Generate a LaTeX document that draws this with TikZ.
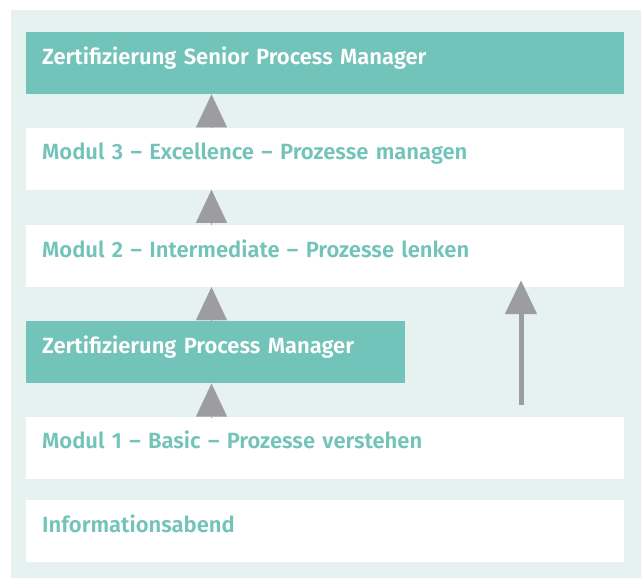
\documentclass[tikz,border=0pt]{standalone}
\usepackage{fontspec}
\setmainfont{Fira Sans}[BoldFont={Fira Sans SemiBold}]
\usepackage{tikz}
\usetikzlibrary{arrows.meta, positioning}

\definecolor{zteal}{HTML}{72C3B9}
\definecolor{zmint}{HTML}{E6F2F0}
\definecolor{zgray}{HTML}{9D9D9F}

\begin{document}
\begin{tikzpicture}[
    stage/.style={fill=#1, anchor=north west, minimum width=598pt, text width=566pt,
        inner xsep=16pt, inner ysep=0pt, text height=32pt, text depth=30pt, align=left,
        font=\bfseries\fontsize{22}{26}\selectfont, text=zteal},
    stage/.default=white,
    cert/.style={stage=zteal, text=white},
    step up/.style={zgray, line width=0.1pt, -{Triangle[width=31pt, length=33pt]}},
    long up/.style={zgray, line width=5pt, -{Triangle[width=31pt, length=34pt]}}
]
    % background panel and page
    \useasboundingbox (0,0) rectangle (641pt,-579pt);
    \fill[zmint] (11pt,-10pt) rectangle (641pt,-578pt);

    % stages, top to bottom
    \node[cert] (senior) at (26pt,-32pt) {Zertifizierung Senior Process Manager};
    \node[stage, below=33pt of senior.south west, anchor=north west] (mod3) {Modul 3 -- Excellence -- Prozesse managen};
    \node[stage, below=35pt of mod3.south west, anchor=north west] (mod2) {Modul 2 -- Intermediate -- Prozesse lenken};
    \node[cert, minimum width=379pt, text width=347pt, below=34pt of mod2.south west, anchor=north west] (pm) {Zertifizierung Process Manager};
    \node[stage, below=33pt of pm.south west, anchor=north west] (mod1) {Modul 1 -- Basic -- Prozesse verstehen};
    \node[stage, below=21pt of mod1.south west, anchor=north west] (info) {Informationsabend};

    % step arrows
    \draw[step up] (mod1.north west) ++(185.5pt,0) coordinate (a1) -- (a1 |- pm.south);
    \draw[step up] (pm.north west) ++(185.5pt,0) coordinate (a2) -- (a2 |- mod2.south);
    \draw[step up] (mod2.north west) ++(185.5pt,0) coordinate (a3) -- (a3 |- mod3.south);
    \draw[step up] (mod3.north west) ++(185.5pt,0) coordinate (a4) -- (a4 |- senior.south);

    % direct route
    \coordinate (skip0) at ([shift={(495pt,12pt)}]mod1.north west);
    \coordinate (skip1) at ([shift={(495pt,7pt)}]mod2.south west);
    \draw[long up] (skip0) -- (skip1);
\end{tikzpicture}
\end{document}
